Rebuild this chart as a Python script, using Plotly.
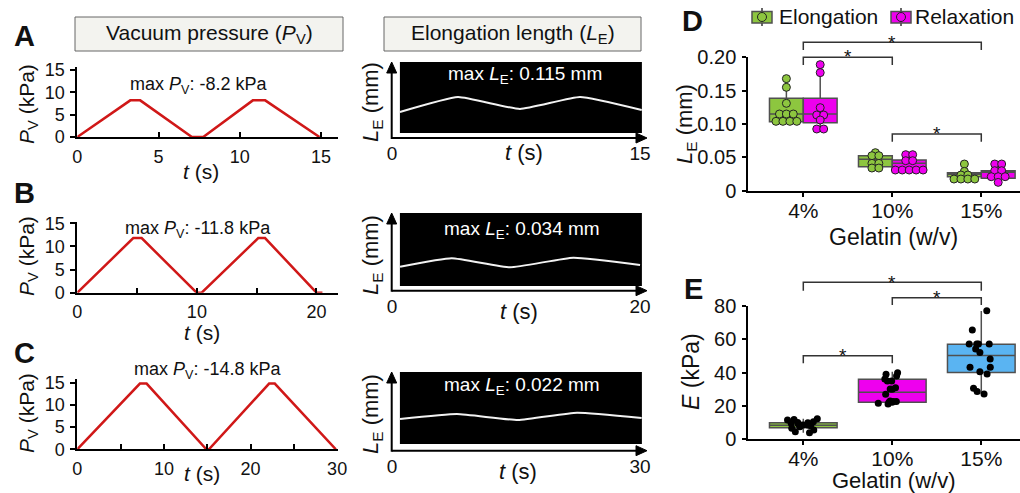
import plotly.graph_objects as go

W, H = 1020, 493
FONT = "Liberation Sans, Arial, sans-serif"

# ---------------- data ----------------
# A-C: vacuum pressure waveform, P_V (kPa) vs t (s)
pa_t = [0, 3.26, 3.87, 7.05, 7.75, 10.8, 11.56, 14.9]
pa_p = [0, 8.2, 8.2, 0, 0, 8.2, 8.2, 0]
pb_t = [0, 4.68, 5.38, 9.98, 10.4, 15.13, 15.7, 20.0, 20.5]
pb_p = [0, 11.8, 11.8, 0, 0, 11.8, 11.8, 0, 0]
pc_t = [0, 7.23, 8.0, 14.9, 15.2, 22.15, 22.8, 29.85]
pc_p = [0, 14.8, 14.8, 0, 0, 14.8, 14.8, 0]
max_pv = ["-8.2", "-11.8", "-14.8"]

# A-C: elongation trace, relative height inside the kymograph (0-1) vs t (s)
le_a_t = [0.48, 3.99, 7.74, 11.37, 15.1]
le_a_v = [0.342, 0.539, 0.382, 0.539, 0.368]
le_b_t = [0.65, 4.81, 9.52, 14.62, 20.0]
le_b_v = [0.309, 0.417, 0.301, 0.425, 0.331]
le_c_t = [0.97, 7.86, 15.24, 22.38, 30.2]
le_c_v = [0.403, 0.466, 0.390, 0.483, 0.416]
max_le = ["0.115", "0.034", "0.022"]
t_end = [15, 20, 30]

# D: elongation length L_E (mm)
gelatin = ["4%", "10%", "15%"]
el_4 = [0.168, 0.155, 0.131, 0.115, 0.115, 0.115, 0.104, 0.104, 0.104, 0.104]
el_10 = [0.057, 0.0525, 0.0525, 0.041, 0.041, 0.034, 0.034]
el_15 = [0.040, 0.029, 0.0235, 0.0235, 0.0175, 0.0175, 0.0175, 0.0175]
rx_4 = [0.189, 0.177, 0.1245, 0.1135, 0.1135, 0.106, 0.0925, 0.0925]
rx_10 = [0.054, 0.054, 0.045, 0.045, 0.031, 0.031, 0.031, 0.031, 0.031]
rx_15 = [0.040, 0.040, 0.030, 0.030, 0.021, 0.021, 0.021, 0.0125]
el_q1 = [0.1035, 0.036, 0.021]
el_med = [0.115, 0.047, 0.0245]
el_q3 = [0.1386, 0.0525, 0.027]
el_lo = [0.1035, 0.033, 0.0175]
el_hi = [0.170, 0.057, 0.040]
rx_q1 = [0.102, 0.031, 0.0185]
rx_med = [0.115, 0.041, 0.0275]
rx_q3 = [0.1386, 0.046, 0.030]
rx_lo = [0.0925, 0.031, 0.0125]
rx_hi = [0.189, 0.054, 0.040]

# E: Young's modulus E (kPa)
e_4 = [12.2, 11.4, 11.8, 10.4, 10.0, 9.8, 9.4, 9.0, 8.4, 8.4, 8.0, 7.4, 6.4, 5.4, 4.4, 3.8]
e_10 = [39.9, 38.9, 37.9, 36.1, 34.9, 34.9, 30.9, 30.1, 29.9, 26.9, 22.9, 22.5, 22.5,
        22.1, 22.1, 21.5, 21.1]
e_15 = [77.2, 65.6, 57.1, 57.1, 57.1, 57.1, 54.1, 52.1, 48.1, 43.1, 43.1, 40.5, 39.1,
        30.5, 28.5, 27.1]
e_q1 = [6.8, 22.1, 40.0]
e_med = [8.2, 28.1, 50.2]
e_q3 = [9.8, 35.9, 57.0]
e_lo = [3.8, 20.5, 27.1]
e_hi = [12.2, 40.5, 77.0]

# ---------------- styles ----------------
GREEN = "#8dc63f"
MAGENTA = "#ee00ee"
BLUE = "#5ab4f2"
RED = "#d01818"
BOXLINE = "#505050"


def px(x):
    return x / W


def py(y):
    return 1 - y / H


def dom_x(a, b):
    return [a / W, b / W]


def dom_y(bot, top):
    return [1 - bot / H, 1 - top / H]


fig = go.Figure()
layout = dict(
    width=W, height=H, margin=dict(l=0, r=0, t=0, b=0, pad=0, autoexpand=False),
    autosize=False,
    paper_bgcolor="white", plot_bgcolor="white",
    font=dict(family=FONT, color="#111111", size=18),
    boxmode="overlay",
    showlegend=False,
)
annotations = []
shapes = []


def text(x, y, s, size=18, color="#111111", angle=0, xanchor="center", yanchor="middle"):
    annotations.append(dict(x=px(x), y=py(y), xref="paper", yref="paper", text=s,
                            showarrow=False, textangle=angle, xanchor=xanchor,
                            yanchor=yanchor,
                            font=dict(family=FONT, size=size, color=color)))


def pline(x0, y0, x1, y1, color="black", width=2):
    shapes.append(dict(type="line", xref="paper", yref="paper", x0=px(x0), y0=py(y0),
                       x1=px(x1), y1=py(y1), line=dict(color=color, width=width)))


def ppath(points, fill="black"):
    d = "M " + " L ".join(f"{px(a)},{py(b)}" for a, b in points) + " Z"
    shapes.append(dict(type="path", xref="paper", yref="paper", path=d,
                       fillcolor=fill, line=dict(color=fill, width=1)))


# ---------- A-C pressure panels ----------
press = [(pa_t, pa_p), (pb_t, pb_p), (pc_t, pc_p)]
p_ybox = [(137, 67), (292.7, 221.7), (449.3, 379.3)]
p_xend = [16.04, 21.8, 30.1]
p_yend = [15.67, 15.34, 15.77]
p_dtick = [5, 10, 10]
for k in range(3):
    n = k + 1
    t, p = press[k]
    bot, top = p_ybox[k]
    xa = dict(domain=dom_x(77.3, 338), anchor=f"y{n}", range=[0, p_xend[k]],
              showline=True, linecolor="black", linewidth=2, ticks="inside",
              ticklen=5, tickwidth=2, tickcolor="black", tick0=0, dtick=p_dtick[k],
              showgrid=False, zeroline=False, tickfont=dict(size=18),
              ticklabelstandoff=2)
    if p_dtick[k] == 10:
        xa["minor"] = dict(dtick=5, tick0=0, ticks="inside", ticklen=5, tickwidth=2,
                           tickcolor="black", showgrid=False)
    ya = dict(domain=dom_y(bot, top), anchor=f"x{n}", range=[0, p_yend[k]],
              showline=True, linecolor="black", linewidth=2, ticks="outside",
              ticklen=5, tickwidth=2, tickcolor="black", tickvals=[0, 5, 10, 15],
              showgrid=False, zeroline=False, tickfont=dict(size=18),
              ticklabelstandoff=2)
    layout[f"xaxis{n}"] = xa
    layout[f"yaxis{n}"] = ya
    fig.add_trace(go.Scatter(x=t, y=p, mode="lines", xaxis=f"x{n}", yaxis=f"y{n}",
                             line=dict(color=RED, width=2.5), showlegend=False,
                             hoverinfo="skip"))

# pressure texts
p_max_pos = [(198, 85), (198, 230), (207, 370)]
p_t_pos = [(201, 172), (202, 332), (202, 473)]
p_ytitle = [(28, 104), (28, 256), (28, 413)]
for k in range(3):
    text(*p_max_pos[k], f"max <i>P</i><sub>V</sub>: {max_pv[k]} kPa", size=18)
    text(*p_t_pos[k], "<i>t</i> (s)", size=21)
    text(*p_ytitle[k], "<i>P</i><sub>V</sub> (kPa)", size=21, angle=-90)

# ---------- A-C elongation panels ----------
elong = [(le_a_t, le_a_v), (le_b_t, le_b_v), (le_c_t, le_c_v)]
e_ybox = [(138, 62), (290.7, 213), (450.7, 372)]
e_xend = [15.42, 20.56, 30.85]
e_rect_y0 = [0.066, 0.06, 0.085]
e_max_pos = [(525, 75), (522, 230), (522, 386)]
e_t_pos = [(524, 152), (519, 311), (518, 471)]
e_ytitle = [(372, 102), (372, 255), (372, 414)]
AX0, AX1 = 391.7, 647
for k in range(3):
    n = k + 4
    t, v = elong[k]
    bot, top = e_ybox[k]
    layout[f"xaxis{n}"] = dict(domain=dom_x(392, 647), anchor=f"y{n}", range=[0, e_xend[k]],
                               showline=False, ticks="", tickvals=[0, t_end[k]],
                               showgrid=False, zeroline=False, tickfont=dict(size=19),
                               ticklabelstandoff=2)
    layout[f"yaxis{n}"] = dict(domain=dom_y(bot, top), anchor=f"x{n}", range=[0, 1],
                               showline=False, showticklabels=False, ticks="",
                               showgrid=False, zeroline=False)
    shapes.append(dict(type="rect", xref=f"x{n} domain", yref=f"y{n} domain",
                       x0=0.031, x1=0.980, y0=e_rect_y0[k], y1=1.0,
                       fillcolor="black", line=dict(width=0), layer="below"))
    fig.add_trace(go.Scatter(x=t, y=v, mode="lines", xaxis=f"x{n}", yaxis=f"y{n}",
                             line=dict(color="#f2f2f2", width=2, shape="spline",
                                       smoothing=0.4),
                             showlegend=False, hoverinfo="skip"))
    # arrow axes
    pline(AX0, bot, AX1 - 8, bot)
    ppath([(AX1 - 11, bot - 5), (AX1, bot), (AX1 - 11, bot + 5)])
    pline(AX0, bot + 1, AX0, top + 8)
    ppath([(AX0 - 5, top + 11), (AX0, top), (AX0 + 5, top + 11)])
    text(*e_max_pos[k], f"max <i>L</i><sub>E</sub>: {max_le[k]} mm", size=19, color="white")
    text(*e_t_pos[k], "<i>t</i> (s)", size=22)
    text(*e_ytitle[k], "<i>L</i><sub>E</sub> (mm)", size=22, angle=-90)

# ---------- headers & panel letters ----------
for (x0, x1, label) in [(75, 343, "Vacuum pressure (<i>P</i><sub>V</sub>)"),
                        (384, 641, "Elongation length (<i>L</i><sub>E</sub>)")]:
    shapes.append(dict(type="rect", xref="paper", yref="paper", x0=px(x0), x1=px(x1),
                       y0=py(51), y1=py(17), fillcolor="#f3f3ef",
                       line=dict(color="#666666", width=1)))
    text((x0 + x1) / 2, 34, label, size=21)

for (x, y, s) in [(24, 36, "A"), (24, 193, "B"), (24, 353, "C"), (692, 21, "D"),
                  (693, 289, "E")]:
    text(x, y, f"<b>{s}</b>", size=29)

# ---------- D ----------
XR = [-0.618, 2.435]
cat_axis = dict(range=XR, tickvals=[0, 1, 2], ticktext=gelatin, showline=True,
                linecolor="black", linewidth=2, ticks="outside", ticklen=4, tickwidth=1.5,
                tickcolor="black", showgrid=False, zeroline=False,
                tickfont=dict(size=21), ticklabelstandoff=-4)
layout["xaxis7"] = dict(domain=dom_x(748.3, 1020), anchor="y7", **cat_axis)
layout["yaxis7"] = dict(domain=dom_y(190.7, 57.3), anchor="x7", range=[0, 0.2],
                        tickvals=[0, 0.05, 0.10, 0.15, 0.20],
                        ticktext=["0", "0.05", "0.10", "0.15", "0.20"],
                        showline=True, linecolor="black", linewidth=2, ticks="outside",
                        ticklen=4, tickwidth=1.5, tickcolor="black", showgrid=False,
                        zeroline=False, tickfont=dict(size=20), ticklabelstandoff=2)
layout["xaxis8"] = dict(domain=dom_x(748.3, 1020), anchor="y8", **cat_axis)
layout["yaxis8"] = dict(domain=dom_y(439, 306), anchor="x8", range=[0, 80],
                        tickvals=[0, 20, 40, 60, 80],
                        showline=True, linecolor="black", linewidth=2, ticks="outside",
                        ticklen=4, tickwidth=1.5, tickcolor="black", showgrid=False,
                        zeroline=False, tickfont=dict(size=20), ticklabelstandoff=2)

OFF = 0.19
BW = 0.38


def swarm(values, center, step=0.078):
    counts = {}
    for v in values:
        counts[v] = counts.get(v, 0) + 1
    seen = {}
    xs = []
    for v in values:
        j = seen.get(v, 0)
        seen[v] = j + 1
        xs.append(center + (j - (counts[v] - 1) / 2) * step)
    return xs


series = [
    ("Elongation", -OFF, GREEN, [el_4, el_10, el_15], el_q1, el_med, el_q3, el_lo, el_hi),
    ("Relaxation", OFF, MAGENTA, [rx_4, rx_10, rx_15], rx_q1, rx_med, rx_q3, rx_lo, rx_hi),
]
for name, off, col, pts, q1, med, q3, lo, hi in series:
    fig.add_trace(go.Box(x=[i + off for i in range(3)], q1=q1, median=med, q3=q3,
                         lowerfence=lo, upperfence=hi, width=BW, whiskerwidth=0,
                         fillcolor=col, line=dict(color=BOXLINE, width=1.5),
                         name=name, boxpoints=False, xaxis="x7", yaxis="y7",
                         hoverinfo="skip"))
    xs, ys = [], []
    for i, vals in enumerate(pts):
        xs += swarm(vals, i + off)
        ys += vals
    fig.add_trace(go.Scatter(x=xs, y=ys, mode="markers", xaxis="x7", yaxis="y7",
                             marker=dict(size=8, color=col, line=dict(color="#222", width=1)),
                             name=name, hoverinfo="skip"))

# legend for D (drawn like the box-with-dot icons of the reference)
for (ix, tx, col, name) in [(762, 777, GREEN, "Elongation"), (901, 913, MAGENTA, "Relaxation")]:
    pline(ix, 8, ix, 26, color="#333333", width=1.5)
    shapes.append(dict(type="rect", xref="paper", yref="paper", x0=px(ix - 10),
                       x1=px(ix + 10), y0=py(23), y1=py(11.5), fillcolor=col,
                       line=dict(color=BOXLINE, width=1.5)))
    shapes.append(dict(type="circle", xref="paper", yref="paper", x0=px(ix - 4.5),
                       x1=px(ix + 4.5), y0=py(21.5), y1=py(12.5), fillcolor=col,
                       line=dict(color="#222222", width=1)))
    text(tx, 17, name, size=21, xanchor="left")

# ---------- E ----------
e_cols = [GREEN, MAGENTA, BLUE]
for i in range(3):
    fig.add_trace(go.Box(x=[i], q1=[e_q1[i]], median=[e_med[i]], q3=[e_q3[i]],
                         lowerfence=[e_lo[i]], upperfence=[e_hi[i]], width=0.76,
                         whiskerwidth=0, fillcolor=e_cols[i],
                         line=dict(color=BOXLINE, width=1.5), name=gelatin[i],
                         boxpoints=False, xaxis="x8", yaxis="y8", hoverinfo="skip"))
e_all = [e_4, e_10, e_15]
ex, ey = [], []
for i, vals in enumerate(e_all):
    ex += [i] * len(vals)
    ey += vals
fig.add_trace(go.Box(x=ex, y=ey, boxpoints="all", jitter=0.5, pointpos=0, width=0.76,
                     fillcolor="rgba(0,0,0,0)", line=dict(width=0, color="rgba(0,0,0,0)"),
                     marker=dict(color="black", size=7), name="E samples",
                     xaxis="x8", yaxis="y8", hoverinfo="skip"))

# axis titles D/E
text(686, 124, "<i>L</i><sub>E</sub> (mm)", size=22, angle=-90)
text(691, 372, "<i>E</i> (kPa)", size=23, angle=-90)
text(893, 237, "Gelatin (w/v)", size=23)
text(893, 480, "Gelatin (w/v)", size=22)


# significance brackets
def bracket(xref, i0, i1, y_top, y_bot, star_x, star_y):
    shapes.append(dict(type="path", xref=xref, yref="paper",
                       path=f"M {i0},{py(y_bot)} L {i0},{py(y_top)} L {i1},{py(y_top)} L {i1},{py(y_bot)}",
                       line=dict(color="#333333", width=1.5)))
    annotations.append(dict(x=star_x, y=py(star_y), xref=xref, yref="paper", text="*",
                            showarrow=False, xanchor="center", yanchor="middle",
                            font=dict(family=FONT, size=19, color="#111")))


bracket("x7", 0, 2, 42.3, 50, 1.0, 42)
bracket("x7", 0, 1, 57.3, 65, 0.5, 57)
bracket("x7", 1, 2, 134, 141.7, 1.5, 133)
bracket("x8", 0, 2, 282.3, 290.7, 1.0, 282)
bracket("x8", 1, 2, 297.7, 305, 1.5, 297)
bracket("x8", 0, 1, 355.7, 363.3, 0.45, 355)

layout["annotations"] = annotations
layout["shapes"] = shapes
fig.update_layout(**layout)
fig.write_html("out.html", config={"displayModeBar": False},
               post_script="document.body.style.margin='0px';")
